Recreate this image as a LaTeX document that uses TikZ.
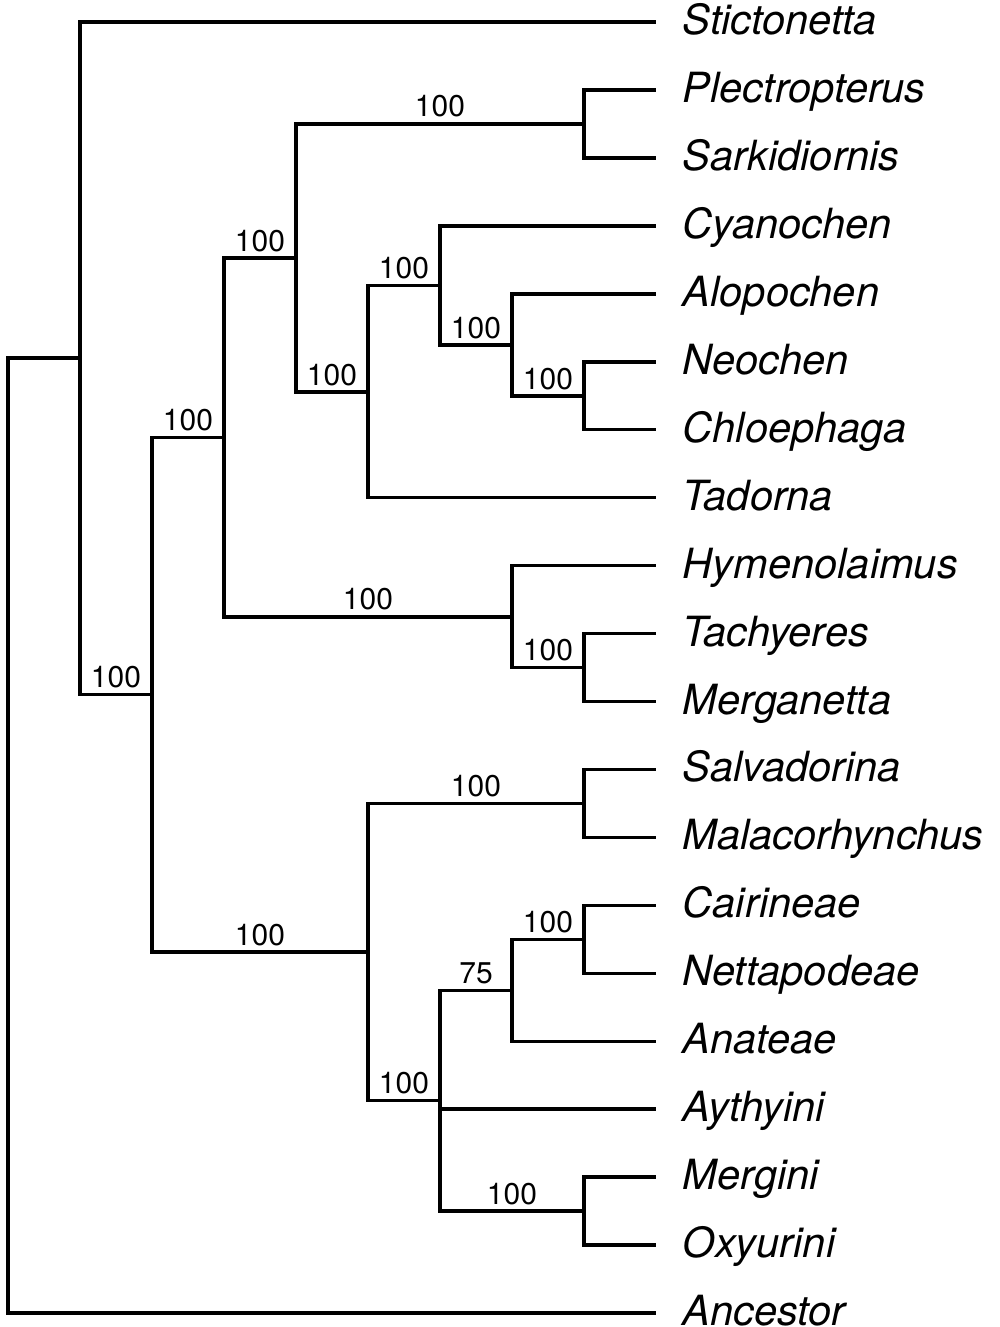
\documentclass[tikz,border=0pt]{standalone}
\usepackage{fontspec}
\setmainfont{TeX Gyre Heros}
\begin{document}
\begin{tikzpicture}[x=0.5pt,y=-0.5pt,line width=1.75pt,line join=miter,
  taxon/.style={anchor=base west,inner sep=0pt,font=\fontsize{20.8}{24}\selectfont\itshape,yshift=-6.25pt},
  supp/.style={anchor=base,inner sep=0pt,font=\fontsize{15}{18}\selectfont,yshift=3.5pt,pos=.75}]
\useasboundingbox (0,0) rectangle (1000,1327);
\fill[white] (0,0) rectangle (1000,1327);
% leaves
\foreach \n/\t [count=\i from 0] in {Sti/Stictonetta,Ple/Plectropterus,Sar/Sarkidiornis,Cya/Cyanochen,Alo/Alopochen,Neo/Neochen,Chl/Chloephaga,Tad/Tadorna,Hym/Hymenolaimus,Tac/Tachyeres,Mer/Merganetta,Sal/Salvadorina,Mal/Malacorhynchus,Cai/Cairineae,Net/Nettapodeae,Ana/Anateae,Ayt/Aythyini,Mgi/Mergini,Oxy/Oxyurini,Anc/Ancestor}{
  \coordinate (\n) at (656,{22+67.95*\i});
  \node[taxon] (t\n) at (681,{22+67.95*\i}) {\t};
}
% internal nodes
\coordinate (root) at (8,358);
\coordinate (nA) at (80,358);
\coordinate (nB) at (152,694.7);
\coordinate (nC) at (224,437.4);
\coordinate (nD) at (296,258);
\coordinate (nE) at (584,124);
\coordinate (nF) at (368,392);
\coordinate (nG) at (440,285.5);
\coordinate (nH) at (512,345);
\coordinate (nI) at (584,396);
\coordinate (nJ) at (512,616.9);
\coordinate (nK) at (584,667.7);
\coordinate (nL) at (368,952);
\coordinate (nM) at (584,803.4);
\coordinate (nN) at (440,1100.7);
\coordinate (nO) at (512,990.3);
\coordinate (nP) at (584,939.3);
\coordinate (nQ) at (584,1211.1);
% branches
\draw (nA) -- (root) |- (Anc);
\draw (nA) |- (Sti);
\draw (nA) |- (nB) node[supp]{100};
\draw (nB) |- (nC) node[supp]{100};
\draw (nB) |- (nL) node[supp]{100};
\draw (nC) |- (nD) node[supp]{100};
\draw (nC) |- (nJ) node[supp]{100};
\draw (nD) |- (nE) node[supp]{100};
\draw (nD) |- (nF) node[supp]{100};
\draw (nE) |- (Ple);
\draw (nE) |- (Sar);
\draw (nF) |- (nG) node[supp]{100};
\draw (nF) |- (Tad);
\draw (nG) |- (Cya);
\draw (nG) |- (nH) node[supp]{100};
\draw (nH) |- (Alo);
\draw (nH) |- (nI) node[supp]{100};
\draw (nI) |- (Neo);
\draw (nI) |- (Chl);
\draw (nJ) |- (Hym);
\draw (nJ) |- (nK) node[supp]{100};
\draw (nK) |- (Tac);
\draw (nK) |- (Mer);
\draw (nL) |- (nM) node[supp]{100};
\draw (nL) |- (nN) node[supp]{100};
\draw (nM) |- (Sal);
\draw (nM) |- (Mal);
\draw (nN) |- (nO) node[supp]{75};
\draw (nN) |- (Ayt);
\draw (nN) |- (nQ) node[supp]{100};
\draw (nO) |- (nP) node[supp]{100};
\draw (nO) |- (Ana);
\draw (nP) |- (Cai);
\draw (nP) |- (Net);
\draw (nQ) |- (Mgi);
\draw (nQ) |- (Oxy);
\end{tikzpicture}
\end{document}
